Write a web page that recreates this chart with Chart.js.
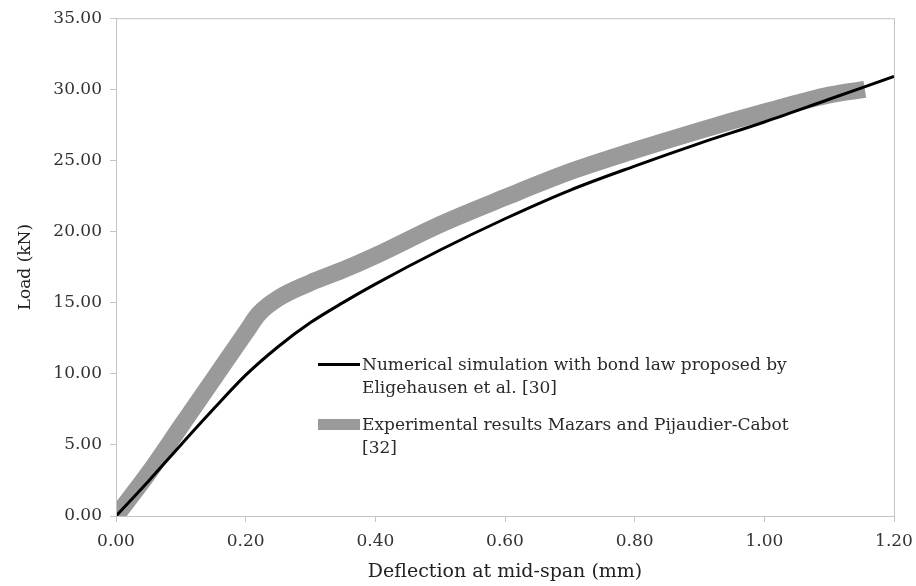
<!DOCTYPE html>
<html>
<head>
<meta charset="utf-8">
<script src="https://cdn.jsdelivr.net/npm/chart.js@4.4.1/dist/chart.umd.min.js"></script>
<style>
  html, body { margin: 0; padding: 0; background: #fff; }
  #wrap { position: relative; width: 916px; height: 586px; }
  #legend {
    position: absolute; left: 318px; top: 353px;
    font-family: "DejaVu Serif", serif; font-size: 17px; color: #2a2a2a;
    line-height: 23px;
  }
  .item { position: relative; padding-left: 44px; margin-bottom: 14px; width: 436px; }
  .swatch { position: absolute; left: 0; }
  .line { top: 10px; width: 42px; height: 3px; background: #000; }
  .band { top: 6px; width: 42px; height: 11px; background: #9a9a9a; }
</style>
</head>
<body>
<div id="wrap">
  <canvas id="myChart" width="916" height="586"></canvas>
  <div id="legend"></div>
</div>
<script>
// deflection (mm) and load (kN)
var num_x = [0, 0.05, 0.1, 0.15, 0.2, 0.25, 0.3, 0.35, 0.4, 0.5, 0.6, 0.7, 0.8, 0.9, 1.0, 1.1, 1.2];
var num_y = [0, 2.45, 5.0, 7.5, 9.9, 11.9, 13.6, 15.0, 16.3, 18.7, 20.9, 22.9, 24.6, 26.2, 27.7, 29.3, 30.9];

var exp_x = [0, 0.05, 0.1, 0.15, 0.2, 0.22, 0.25, 0.3, 0.35, 0.4, 0.5, 0.6, 0.7, 0.8, 0.9, 1.0, 1.1, 1.155];
var exp_y = [0, 3.0, 6.3, 9.6, 12.9, 14.2, 15.3, 16.4, 17.3, 18.3, 20.5, 22.4, 24.2, 25.7, 27.1, 28.4, 29.6, 30.0];

var series_labels = [
  'Numerical simulation with bond law proposed by Eligehausen et al. [30]',
  'Experimental results Mazars and Pijaudier-Cabot [32]'
];
var x_title = 'Deflection at mid-span (mm)';
var y_title = 'Load (kN)';

function toPoints(xs, ys) {
  return xs.map(function(x, i) { return {x: x, y: ys[i]}; });
}

// legend sits inside the plot, built as html
var legend = document.getElementById('legend');
series_labels.forEach(function(label, i) {
  var item = document.createElement('div');
  item.className = 'item';
  var sw = document.createElement('span');
  sw.className = 'swatch ' + (i == 0 ? 'line' : 'band');
  item.appendChild(sw);
  item.appendChild(document.createTextNode(label));
  legend.appendChild(item);
});

// box round the plot area
var frame = {
  id: 'frame',
  afterDatasetsDraw: function(chart) {
    var a = chart.chartArea, ctx = chart.ctx;
    ctx.save();
    ctx.strokeStyle = '#c4c4c4';
    ctx.lineWidth = 1;
    ctx.strokeRect(a.left + 0.5, a.top + 0.5, a.right - a.left, a.bottom - a.top);
    ctx.restore();
  }
};

var tickFont = {family: 'DejaVu Serif', size: 17};

var ctx = document.getElementById('myChart');
var myChart = new Chart(ctx, {
  type: 'scatter',
  data: {
    datasets: [
      {
        label: series_labels[0],
        data: toPoints(num_x, num_y),
        showLine: true,
        borderColor: '#000',
        borderWidth: 3,
        pointRadius: 0,
        cubicInterpolationMode: 'monotone',
        order: 0
      },
      {
        label: series_labels[1],
        data: toPoints(exp_x, exp_y),
        showLine: true,
        borderColor: '#9a9a9a',
        borderWidth: 17,
        pointRadius: 0,
        cubicInterpolationMode: 'monotone',
        order: 1
      }
    ]
  },
  options: {
    responsive: false,
    animation: false,
    layout: { padding: { top: 18, right: 22, left: 11, bottom: 0 } },
    plugins: {
      legend: { display: false },
      tooltip: { enabled: false }
    },
    scales: {
      x: {
        type: 'linear',
        min: 0, max: 1.2,
        afterFit: function(scale) {
          scale.height = 70;
          scale.paddingRight = 0;
          scale.paddingLeft = 0;
        },
        ticks: {
          stepSize: 0.2,
          font: tickFont,
          color: '#333',
          padding: 9,
          callback: function(v) { return v.toFixed(2); }
        },
        grid: { drawOnChartArea: false, tickLength: 6, color: '#c4c4c4' },
        border: { color: '#c4c4c4' },
        title: { display: true, text: x_title, font: {family: 'DejaVu Serif', size: 19}, color: '#222', padding: {top: 0, bottom: 3} }
      },
      y: {
        type: 'linear',
        min: 0, max: 35,
        afterFit: function(scale) { scale.width = 105; },
        ticks: {
          stepSize: 5,
          font: tickFont,
          color: '#333',
          padding: 8,
          callback: function(v) { return v.toFixed(2); }
        },
        grid: { drawOnChartArea: false, tickLength: 6, color: '#c4c4c4' },
        border: { color: '#c4c4c4' },
        title: { display: true, text: y_title, font: {family: 'DejaVu Serif', size: 17}, color: '#222', padding: {top: 4, bottom: 0} }
      }
    }
  },
  plugins: [frame]
});
</script>
</body>
</html>
